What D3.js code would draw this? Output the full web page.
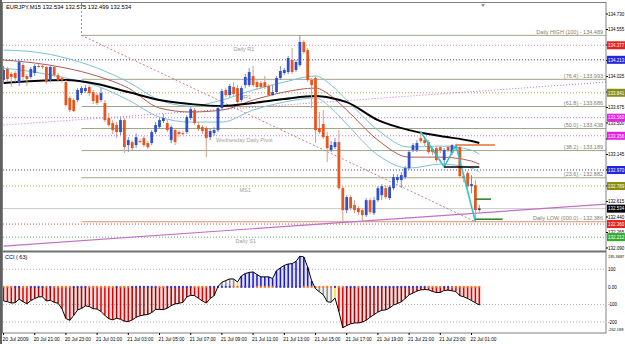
<!DOCTYPE html>
<html>
<head>
<meta charset="utf-8">
<script src="https://cdn.jsdelivr.net/npm/d3@7"></script>
<style>
  body { margin: 0; background: #fff; }
  text { font-family: "Liberation Sans", Arial, sans-serif; }
</style>
</head>
<body>
<svg id="chart"></svg>
<script>
const width  = 625
const height = 344

// time axis labels, one every 8 bars (M15)
const timeLabels = ["20 Jul 2009","20 Jul 21:00","20 Jul 23:00","21 Jul 01:00","21 Jul 03:00","21 Jul 05:00",
  "21 Jul 07:00","21 Jul 09:00","21 Jul 11:00","21 Jul 13:00","21 Jul 15:00","21 Jul 17:00",
  "21 Jul 19:00","21 Jul 21:00","21 Jul 23:00","22 Jul 01:00"]

// EURJPY M15 candles
const open = [
133.985,134.109,134.053,134.064,133.951,134.154,134.030,134.019,134.064,134.143,
134.143,134.132,133.985,134.132,134.041,134.007,133.962,133.782,133.759,133.759,
133.838,133.861,133.906,133.849,133.815,133.759,133.725,133.556,133.499,133.477,
133.398,133.533,133.251,133.285,133.251,133.296,133.330,133.274,133.274,133.398,
133.454,133.522,133.499,133.307,133.420,133.398,133.386,133.398,133.556,133.646,
133.477,133.454,133.443,133.341,133.386,133.420,133.669,133.872,133.815,133.906,
133.894,133.759,133.928,133.928,134.030,133.962,133.951,133.962,133.917,133.815,
133.849,134.007,134.064,134.075,134.211,134.098,134.154,134.414,134.323,133.985,
134.007,133.443,133.488,133.353,133.194,133.228,133.285,132.765,132.517,132.664,
132.574,132.540,132.517,132.461,132.630,132.483,132.630,132.686,132.765,132.653,
132.765,132.856,132.856,132.890,132.991,133.194,133.194,133.330,133.307,133.285,
133.206,133.217,133.228,133.082,133.228,133.161,133.217,133.228,132.901,132.935,
132.788,132.799,132.534]
const high = [
134.143,134.132,134.075,134.086,134.211,134.177,134.053,134.132,134.165,134.165,
134.165,134.143,134.154,134.154,134.064,134.030,133.985,133.804,133.782,133.894,
133.917,133.928,133.928,133.872,133.838,133.894,133.759,133.612,133.533,133.511,
133.556,133.556,133.341,133.307,133.386,133.319,133.353,133.296,133.420,133.511,
133.556,133.601,133.533,133.477,133.443,133.420,133.409,133.590,133.691,133.669,
133.511,133.477,133.465,133.443,133.454,133.691,133.883,133.894,133.940,133.962,
133.928,133.917,134.053,134.120,134.143,133.985,133.974,134.030,133.940,133.928,
134.030,134.143,134.120,134.256,134.346,134.211,134.489,134.436,134.346,134.007,
134.030,133.624,133.646,133.398,133.296,133.330,133.420,132.788,132.686,132.686,
132.630,132.562,132.540,132.653,132.653,132.664,132.788,132.811,132.799,132.799,
132.924,132.924,132.946,133.014,133.194,133.274,133.307,133.398,133.341,133.307,
133.228,133.240,133.240,133.217,133.251,133.262,133.251,133.251,132.924,132.957,
132.912,132.856,132.575]
const low = [
133.951,133.962,133.906,133.962,133.917,133.985,133.917,133.996,134.030,134.120,
134.109,133.940,133.962,134.019,133.962,133.951,133.680,133.624,133.624,133.736,
133.815,133.838,133.804,133.714,133.703,133.736,133.511,133.454,133.375,133.330,
133.364,133.161,133.172,133.194,133.217,133.274,133.228,133.206,133.251,133.375,
133.432,133.499,133.398,133.274,133.251,133.341,133.364,133.375,133.533,133.477,
133.409,133.375,133.115,133.307,133.353,133.398,133.646,133.793,133.793,133.804,
133.714,133.736,133.894,133.906,133.906,133.872,133.883,133.883,133.793,133.804,
133.827,133.985,134.041,134.053,134.053,134.075,134.132,134.278,133.962,133.669,
133.274,133.375,133.319,133.059,133.172,133.206,132.743,132.386,132.483,132.517,
132.483,132.461,132.395,132.438,132.472,132.461,132.607,132.630,132.641,132.630,
132.743,132.822,132.765,132.867,132.969,133.172,133.172,133.274,133.240,133.149,
133.138,133.059,133.161,133.003,133.172,133.138,133.194,132.878,132.833,132.765,
132.709,132.386,132.499]
const close = [
134.098,133.996,134.019,134.007,134.188,134.019,133.996,134.109,134.143,134.140,
134.132,133.962,134.132,134.041,133.985,133.985,133.703,133.646,133.635,133.872,
133.894,133.894,133.838,133.748,133.725,133.838,133.533,133.477,133.420,133.398,
133.533,133.228,133.307,133.217,133.341,133.293,133.251,133.228,133.398,133.477,
133.533,133.556,133.420,133.454,133.285,133.375,133.383,133.567,133.657,133.499,
133.432,133.409,133.330,133.409,133.420,133.669,133.861,133.815,133.917,133.827,
133.736,133.894,134.019,134.075,133.928,133.906,133.906,133.906,133.815,133.849,
134.007,134.086,134.098,134.233,134.075,134.188,134.414,134.301,133.985,133.928,
133.420,133.398,133.341,133.217,133.251,133.285,132.765,132.517,132.664,132.540,
132.517,132.494,132.461,132.630,132.494,132.630,132.765,132.788,132.664,132.777,
132.890,132.890,132.912,132.991,133.172,133.251,133.274,133.296,133.274,133.172,
133.172,133.082,133.194,133.194,133.194,133.251,133.240,132.901,132.878,132.788,
132.811,132.517,132.534]

// CCI(63) per bar
const cci = [
-80,-84,-92,-90,-70,-84,-96,-78,-66,-57,
-56,-80,-76,-88,-93,-125,-180,-190,-162,-131,
-123,-108,-112,-124,-126,-140,-162,-181,-187,-178,
-184,-195,-197,-188,-173,-164,-160,-157,-146,-128,
-128,-129,-121,-106,-97,-93,-88,-57,-48,-50,
-65,-80,-92,-66,-50,2,26,36,45,45,
28,62,76,82,85,70,57,57,57,47,
92,108,122,130,132,145,174,170,112,35,
-10,-28,-45,-84,-88,-63,-140,-232,-220,-210,
-205,-205,-200,-190,-172,-158,-143,-133,-131,-120,
-103,-95,-85,-66,-45,-35,-24,-17,-15,-17,
-26,-32,-32,-20,-19,-22,-27,-50,-56,-66,
-78,-90,-103]

// moving averages / bands, read at these bars
const maBars   = [0, 8, 16, 24, 32, 40, 48, 56, 64, 72, 80, 84, 88, 96, 104, 112, 120, 122]
const bandUp   = [134.323,134.301,134.233,134.120,133.962,133.759,133.691,133.759,133.872,133.962,134.030,133.928,133.759,133.420,133.228,133.240,133.194,133.149]
const maMid    = [134.211,134.177,134.120,134.030,133.894,133.669,133.624,133.646,133.759,133.849,133.894,133.804,133.646,133.307,133.115,133.115,133.070,133.036]
const bandDown = [134.120,134.075,134.007,133.917,133.759,133.567,133.511,133.511,133.646,133.736,133.782,133.669,133.488,133.138,132.991,133.036,132.991,132.946]
const maSlow   = [133.951,133.974,133.985,133.940,133.849,133.759,133.714,133.691,133.725,133.770,133.804,133.782,133.736,133.533,133.420,133.353,133.296,133.274]

// price axis (labels that are not hidden by the level boxes)
const priceTicks = [134.730,134.555,134.380,134.205,134.025,133.850,133.675,133.500,133.320,133.145,132.970,132.790,132.615,132.440,132.265,132.090]
const priceShown = [134.730,134.555,134.380,134.025,133.675,133.500,133.145,132.615,132.440,132.265,132.090]

// horizontal levels (pivots etc.)
const levelPrices = [134.377, 134.213, 133.841, 133.560, 133.356, 132.970, 132.789, 132.360, 132.212]
const bidPrice = 132.534
const pivotNames  = ["Daily R1", "MR1", "Wednesday Daily Pivot", "MS1", "Daily S1"]
const pivotPrices = [134.377, 133.841, 133.356, 132.789, 132.212]

// fibonacci retracement
const fibNames  = ["Daily HIGH  (100)", "(76.4)", "(61.8)", "(50.0)", "(38.2)", "(23.6)", "Daily LOW  (000.0)"]
const fibPrices = [134.489, 133.993, 133.686, 133.438, 133.189, 132.882, 132.386]
const fibBars   = [20, 121]

// zigzag and short segments
const zzBars   = [107, 113, 116, 121]
const zzPrices = [133.398, 133.003, 133.251, 132.386]
const segStart = [113, 116, 121, 121]
const segEnd   = [122, 126, 125, 128]
const segPrice = [133.003, 133.251, 132.641, 132.415]

// trend lines
const trendBars   = [0, 154.5]
const trendPrices = [132.111, 132.585]
const riseBars    = [0, 154.5]
const risePrices  = [133.477, 133.962]

// CCI axis
const cciTicks  = [195.3687, 100, 0, -100, -200, -262.189]
const cciLabels = ["195.3687", "100", "0.00", "-100", "-200", "-262.189"]

// ---------- layout ----------
const plotRight = 606
const levelColors = ["#d090b0","#404098","#a8a840","#d070d0","#d070d0","#404098","#a8a840","#d05050","#60b060"]
const boxColors   = ["#e82020","#2424e0","#8c8c10","#e820e8","#e820e8","#2424e0","#8c8c10","#e82020","#30b030"]
const segColors   = ["#000000", "#e07030", "#208020", "#208020"]
const pivotX      = [59, 60.5, 54.5, 60.5, 59.5]

const svg = d3.select("#chart")
  .attr("width", width)
  .attr("height", height)

const x  = d3.scaleLinear().domain([0, 122]).range([3.5, 479.3])
const y  = d3.scaleLinear().domain([132.056, 134.854]).range([251, 3])
const yc = d3.scaleLinear().domain([-262.189, 195.3687]).range([333, 252.5])

svg.append("rect").attr("width", width).attr("height", height).attr("fill", "#fff")

const main = svg.append("g")

// horizontal level lines
main.selectAll(".lvl").data(levelPrices).enter().append("line")
  .attr("x1", 3).attr("x2", plotRight)
  .attr("y1", d => y(d)).attr("y2", d => y(d))
  .attr("stroke", (d, i) => levelColors[i])
  .attr("stroke-width", 1)
  .attr("stroke-dasharray", "1,2")

main.append("line")
  .attr("x1", 3).attr("x2", plotRight)
  .attr("y1", y(bidPrice)).attr("y2", y(bidPrice))
  .attr("stroke", "#c8c8c8")

// fibonacci levels
main.selectAll(".fib").data(fibPrices).enter().append("line")
  .attr("x1", x(fibBars[0])).attr("x2", plotRight)
  .attr("y1", d => y(d)).attr("y2", d => y(d))
  .attr("stroke", (d, i) => i == fibPrices.length - 1 ? "#d49070" : "#a4a488")
  .attr("stroke-width", 1)

main.selectAll(".fibtxt").data(fibPrices).enter().append("text")
  .attr("x", 603).attr("y", d => y(d) - 1.5)
  .attr("text-anchor", "end")
  .attr("font-size", 5.5)
  .attr("fill", "#808070")
  .text((d, i) => fibNames[i] + " - " + d.toFixed(3))

// fib anchor diagonal + vertical
main.append("line")
  .attr("x1", x(fibBars[0])).attr("y1", y(fibPrices[0]))
  .attr("x2", x(fibBars[1])).attr("y2", y(fibPrices[fibPrices.length - 1]))
  .attr("stroke", "#c88080").attr("stroke-dasharray", "2,2")
main.append("line")
  .attr("x1", x(fibBars[0])).attr("y1", 3)
  .attr("x2", x(fibBars[0])).attr("y2", y(fibPrices[0]))
  .attr("stroke", "#c88080").attr("stroke-dasharray", "2,2")

// trend lines
main.append("line")
  .attr("x1", x(trendBars[0])).attr("y1", y(trendPrices[0]))
  .attr("x2", x(trendBars[1])).attr("y2", y(trendPrices[1]))
  .attr("stroke", "#c070c8").attr("stroke-width", 1.2)
main.append("line")
  .attr("x1", x(riseBars[0])).attr("y1", y(risePrices[0]))
  .attr("x2", x(riseBars[1])).attr("y2", y(risePrices[1]))
  .attr("stroke", "#c070c8").attr("stroke-dasharray", "1,2")

// pivot labels
main.selectAll(".pv").data(pivotPrices).enter().append("text")
  .attr("x", (d, i) => x(pivotX[i]))
  .attr("y", d => y(d) + 6)
  .attr("font-size", 5.5)
  .attr("fill", "#a0a0a0")
  .text((d, i) => pivotNames[i])

// moving averages
const maLine = (vals) => d3.line()
  .x((d, i) => x(maBars[i]))
  .y(d => y(d))
  .curve(d3.curveMonotoneX)(vals)

main.append("path").attr("d", maLine(bandUp)).attr("fill", "none").attr("stroke", "#7cc0d8").attr("stroke-width", 1)
main.append("path").attr("d", maLine(bandDown)).attr("fill", "none").attr("stroke", "#7cc0d8").attr("stroke-width", 1)
main.append("path").attr("d", maLine(maMid)).attr("fill", "none").attr("stroke", "#b05858").attr("stroke-width", 1)
main.append("path").attr("d", maLine(maSlow)).attr("fill", "none").attr("stroke", "#000").attr("stroke-width", 2)

// candles
const bars = d3.range(open.length)
const candle = main.selectAll(".candle").data(bars).enter().append("g")
candle.append("line")
  .attr("x1", i => x(i)).attr("x2", i => x(i))
  .attr("y1", i => y(high[i])).attr("y2", i => y(low[i]))
  .attr("stroke", i => close[i] >= open[i] ? "#7f8cc8" : "#d0a088")
  .attr("stroke-width", 1)
candle.append("rect")
  .attr("x", i => x(i) - 1.4)
  .attr("width", 2.8)
  .attr("y", i => y(Math.max(open[i], close[i])))
  .attr("height", i => Math.max(1, Math.abs(y(open[i]) - y(close[i]))))
  .attr("fill", i => i == bars.length - 1 ? "#000" : (close[i] >= open[i] ? "#3050cc" : "#e8561e"))

// zigzag
main.append("path")
  .attr("d", d3.line().x((d, i) => x(zzBars[i])).y(d => y(d))(zzPrices))
  .attr("fill", "none").attr("stroke", "#30c4cc").attr("stroke-width", 1.6)

main.selectAll(".seg").data(segPrice).enter().append("line")
  .attr("x1", (d, i) => x(segStart[i])).attr("x2", (d, i) => x(segEnd[i]))
  .attr("y1", d => y(d)).attr("y2", d => y(d))
  .attr("stroke", (d, i) => segColors[i]).attr("stroke-width", 1.5)

// header
svg.append("text").attr("x", 6).attr("y", 9).attr("font-size", 5.8).attr("fill", "#000")
  .text("EURJPY,M15  132.534 132.575 132.499 132.534")
svg.append("path").attr("d", "M481,4 L485,4 L483,7 Z").attr("fill", "#909090")

// ---------- CCI pane ----------
const cciG = svg.append("g")
cciG.selectAll(".cl").data([100, -100, -200]).enter().append("line")
  .attr("x1", 3).attr("x2", plotRight)
  .attr("y1", d => yc(d)).attr("y2", d => yc(d))
  .attr("stroke", "#b0b0b0").attr("stroke-dasharray", "1,2")

// woodie style colouring: grey until 6 bars on one side, 6th bar yellow
let run = 10
const barColor = cci.map((v, i) => {
  if (i > 0 && Math.sign(v) != Math.sign(cci[i - 1])) run = 1
  else if (i > 0) run++
  if (run <= 5) return "#909090"
  if (run == 6) return "#f0e020"
  if (v >= 0) return "#1818c8"
  return (i > 0 && v > cci[i - 1]) ? "#a80000" : "#e00000"
})

cciG.selectAll(".cf").data(cci).enter().append("rect")
  .attr("x", (d, i) => x(i) - 1.95).attr("width", 3.9)
  .attr("y", d => Math.min(yc(0), yc(d)))
  .attr("height", d => Math.abs(yc(d) - yc(0)))
  .attr("fill", (d, i) => barColor[i]).attr("opacity", 0.12)

cciG.selectAll(".cb").data(cci).enter().append("line")
  .attr("x1", (d, i) => x(i)).attr("x2", (d, i) => x(i))
  .attr("y1", yc(0)).attr("y2", d => yc(d))
  .attr("stroke", (d, i) => barColor[i]).attr("stroke-width", 1.5)

cciG.selectAll(".cd").data(cci).enter().append("rect")
  .attr("x", (d, i) => x(i) - 1).attr("width", 2)
  .attr("y", yc(0) - 1).attr("height", 2)
  .attr("fill", (d, i) => (i > 0 && d > cci[i - 1]) ? "#3838d0" : "#ff6a20")

cciG.append("path")
  .attr("d", d3.line().x((d, i) => x(i)).y(d => yc(d))(cci))
  .attr("fill", "none").attr("stroke", "#000").attr("stroke-width", 1)

svg.append("text").attr("x", 5).attr("y", 259).attr("font-size", 5.5).attr("fill", "#000").text("CCI ( 63)")

// ---------- frame ----------
svg.append("rect").attr("x", 2.5).attr("y", 2.5).attr("width", plotRight - 2.5).attr("height", 330.5)
  .attr("fill", "none").attr("stroke", "#808080")
svg.append("line").attr("x1", 1).attr("x2", 1).attr("y1", 0).attr("y2", 344).attr("stroke", "#606060").attr("stroke-width", 2)
svg.append("line").attr("x1", 3).attr("x2", plotRight).attr("y1", 251.5).attr("y2", 251.5)
  .attr("stroke", "#707070").attr("stroke-width", 2)

// price axis
const axisG = svg.append("g")
axisG.selectAll(".pt").data(priceTicks).enter().append("line")
  .attr("x1", plotRight).attr("x2", plotRight + 2)
  .attr("y1", d => y(d)).attr("y2", d => y(d)).attr("stroke", "#000")
axisG.selectAll(".pl").data(priceShown).enter().append("text")
  .attr("x", 608).attr("y", d => y(d) + 1.8)
  .attr("font-size", 4.5)
  .attr("fill", "#000")
  .text(d => d.toFixed(3))

const boxes = levelPrices.concat([bidPrice])
const boxFill = boxColors.concat(["#000"])
const boxG = axisG.selectAll(".bx").data(boxes).enter().append("g")
boxG.append("rect")
  .attr("x", plotRight + 1).attr("width", 18)
  .attr("y", d => y(d) - 4).attr("height", 8)
  .attr("fill", (d, i) => boxFill[i])
boxG.append("text")
  .attr("x", 608).attr("y", d => y(d) + 1.8)
  .attr("font-size", 4.5)
  .attr("fill", "#fff")
  .text(d => d.toFixed(3))

// cci axis
axisG.selectAll(".ct").data(cciTicks).enter().append("text")
  .attr("x", 608)
  .attr("y", (d, i) => i == 0 ? yc(d) + 5 : (i == cciTicks.length - 1 ? yc(d) - 2 : yc(d) + 1.8))
  .attr("font-size", (d, i) => cciLabels[i].length > 6 ? 3.9 : 4.5)
  .attr("fill", "#000")
  .text((d, i) => cciLabels[i])

// time axis
const tickBars = timeLabels.map((d, i) => i * 8)
axisG.selectAll(".tt").data(tickBars).enter().append("line")
  .attr("x1", d => x(d)).attr("x2", d => x(d))
  .attr("y1", 333).attr("y2", 335).attr("stroke", "#000")
axisG.selectAll(".tl").data(tickBars).enter().append("text")
  .attr("x", d => x(d) - 1).attr("y", 340.5)
  .attr("font-size", 5)
  .attr("textLength", 26).attr("lengthAdjust", "spacingAndGlyphs")
  .attr("fill", "#000")
  .text((d, i) => timeLabels[i])
</script>
</body>
</html>
